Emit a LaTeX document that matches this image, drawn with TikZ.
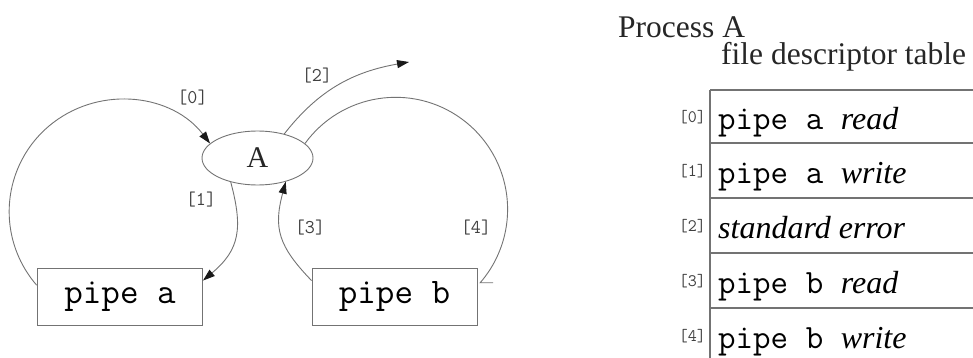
\documentclass[tikz,border=0pt]{standalone}
\usepackage{fontspec}
\setmainfont{Liberation Serif}
\usetikzlibrary{arrows.meta,shapes.geometric,calc}
\begin{document}
\begin{tikzpicture}[x=1pt,y=1pt,
  ln/.style={draw=black!55, line width=0.9pt},
  tipa/.tip={Triangle[length=12pt,width=8pt,color=black!90]},
  arr/.style={ln, -tipa},
  rarr/.style={ln, tipa-},
  lbl/.style={text=black!75, font=\fontsize{19.5}{21}\ttfamily, inner sep=0pt},
  tlbl/.style={text=black!75, font=\fontsize{17.5}{19}\ttfamily, inner sep=0pt, anchor=base east},
  pipebox/.style={ln, rectangle, minimum width=165pt, minimum height=57pt, inner sep=0pt,
     text=black, font=\fontsize{36}{40}\ttfamily},
  proc/.style={ln, ellipse, minimum width=111pt, minimum height=54pt, inner sep=0pt,
     text=black!85, font=\fontsize{30}{34}\selectfont},
  rowtxt/.style={anchor=base west, inner sep=0pt, text=black, font=\fontsize{34}{38}\selectfont},
  head/.style={anchor=base west, inner sep=0pt, text=black!85, font=\fontsize{31.5}{36}\selectfont},
  tline/.style={draw=black!55, line width=1.2pt}
]
\useasboundingbox (0,0) rectangle (973,-358);

% left diagram
\node[proc] (A) at (257.5,-158) {A};
\node[pipebox] (pa) at (120,-296.5) {pipe a};
\node[pipebox] (pb) at (394.5,-296.5) {pipe b};

% [0] : pipe a -> A
\draw[rarr] (A.163) arc[start angle=37.5, end angle=221, radius=112];
% [1] : A -> pipe a
\draw[arr] (A.222) to[out=-75, in=40, looseness=1.2] ($(pa.north east)+(0,-13)$);
% [2] : A -> out
\coordinate (out2) at (409,-62);
\draw[arr] (A.42) to[out=52, in=190] (out2);
% [3] : pipe b -> A
\draw[arr] ($(pb.north west)+(0,-13)$) to[out=134, in=255, looseness=1.2] (A.-40);
% [4] : A -> pipe b
\draw[ln] (A.17) arc[start angle=144, end angle=-41, radius=112] -- ++(13,0);

\node[lbl] (l0) at (192.5,-97.5) {[0]};
\node[lbl] (l1) at (201,-200) {[1]};
\node[lbl] (l2) at (317,-75.5) {[2]};
\node[lbl] (l3) at (310,-227.5) {[3]};
\node[lbl] (l4) at (476,-227.5) {[4]};

% right: file descriptor table
\node[head] (pA) at (618,-38) {Process A};
\node[head] (fdt) at (721,-65) {file descriptor table};

\draw[tline] (710,-90) -- (973,-90);
\draw[tline] (710,-143) -- (973,-143);
\draw[tline] (710,-198) -- (973,-198);
\draw[tline] (710,-253) -- (973,-253);
\draw[tline] (710,-308) -- (973,-308);
\draw[tline] (710,-90) -- (710,-358);

\node[rowtxt] (r0) at (718,-130) {\texttt{pipe a }\fontsize{32}{36}\selectfont\textit{read}};
\node[rowtxt] (r1) at (718,-183) {\texttt{pipe a }\fontsize{32}{36}\selectfont\textit{write}};
\node[rowtxt] (r2) at (718,-238) {\fontsize{32}{36}\selectfont\textit{standard error}};
\node[rowtxt] (r3) at (718,-293) {\texttt{pipe b }\fontsize{32}{36}\selectfont\textit{read}};
\node[rowtxt] (r4) at (718,-348) {\texttt{pipe b }\fontsize{32}{36}\selectfont\textit{write}};

\node[tlbl] (t0) at (706,-123) {[0]};
\node[tlbl] (t1) at (706,-176) {[1]};
\node[tlbl] (t2) at (706,-231) {[2]};
\node[tlbl] (t3) at (706,-286) {[3]};
\node[tlbl] (t4) at (706,-341) {[4]};
\end{tikzpicture}
\end{document}
